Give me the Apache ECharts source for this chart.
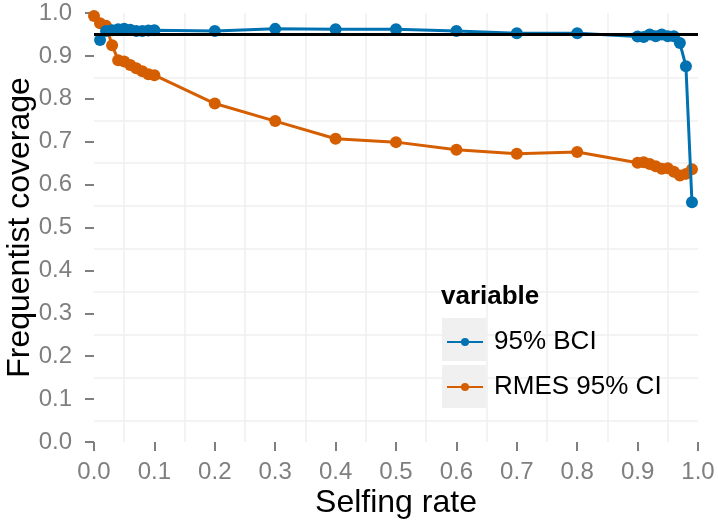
<!DOCTYPE html>
<html>
<head>
<meta charset="utf-8">
<script src="https://cdn.jsdelivr.net/npm/echarts@6/dist/echarts.min.js"></script>
<style>html,body{margin:0;padding:0;background:#fff}#c{width:718px;height:527px}</style>
</head>
<body>
<div id="c"></div>
<script>
const seriesNames = ['95% BCI', 'RMES 95% CI'];
const bciX = [0.01, 0.02, 0.03, 0.04, 0.05, 0.06, 0.07, 0.08, 0.09, 0.1, 0.2, 0.3, 0.4, 0.5, 0.6, 0.7, 0.8, 0.9, 0.91, 0.92, 0.93, 0.94, 0.95, 0.96, 0.97, 0.98, 0.99];
const bciY = [0.937, 0.958, 0.960, 0.962, 0.963, 0.961, 0.958, 0.958, 0.959, 0.960, 0.958, 0.963, 0.962, 0.962, 0.958, 0.953, 0.953, 0.945, 0.944, 0.950, 0.946, 0.950, 0.946, 0.946, 0.930, 0.876, 0.559];
const rmesX = [0, 0.01, 0.02, 0.03, 0.04, 0.05, 0.06, 0.07, 0.08, 0.09, 0.1, 0.2, 0.3, 0.4, 0.5, 0.6, 0.7, 0.8, 0.9, 0.91, 0.92, 0.93, 0.94, 0.95, 0.96, 0.97, 0.98, 0.99];
const rmesY = [0.993, 0.976, 0.970, 0.925, 0.890, 0.887, 0.879, 0.871, 0.864, 0.857, 0.855, 0.789, 0.748, 0.707, 0.699, 0.681, 0.672, 0.676, 0.651, 0.652, 0.648, 0.643, 0.637, 0.638, 0.630, 0.621, 0.625, 0.636];
const nominal = 0.95;
const xTitle = 'Selfing rate';
const yTitle = 'Frequentist coverage';
const legendTitle = 'variable';
const colors = ['#0072B2', '#D55E00'];

const FONT = 'Liberation Sans';
const chart = echarts.init(document.getElementById('c'), null, {renderer: 'canvas'});
const pair = (xs, ys) => xs.map((x, i) => [x, ys[i]]);

const axisCommon = {
  min: 0, max: 1, interval: 0.1,
  axisLine: {show: false},
  axisTick: {show: true, length: 9, lineStyle: {color: '#7f7f7f', width: 2}},
  axisLabel: {color: '#7f7f7f', fontSize: 24, fontFamily: FONT, formatter: v => v.toFixed(1)},
  splitLine: {show: false},
  minorTick: {show: false, splitNumber: 2},
  minorSplitLine: {show: true, lineStyle: {color: '#f0f0f0', width: 1.5}},
  nameLocation: 'middle',
  nameMoveOverlap: false,
  nameTextStyle: {color: '#000', fontSize: 32, fontFamily: FONT}
};

chart.setOption({
  animation: false,
  backgroundColor: '#fff',
  grid: {left: 94, right: 20, top: 13, bottom: 85, containLabel: false, outerBoundsMode: 'none'},
  xAxis: Object.assign({}, axisCommon, {
    type: 'value', name: xTitle, nameGap: 37, offset: 8,
    axisLabel: Object.assign({}, axisCommon.axisLabel, {margin: 10})
  }),
  yAxis: Object.assign({}, axisCommon, {
    type: 'value', name: yTitle, nameGap: 53, offset: 5,
    axisLabel: Object.assign({}, axisCommon.axisLabel, {margin: 17})
  }),
  title: {
    text: legendTitle, left: 441, top: 284, padding: 0,
    textStyle: {fontSize: 26, fontWeight: 'bold', color: '#000', fontFamily: FONT}
  },
  graphic: [
    {type: 'rect', shape: {x: 442, y: 318, width: 44, height: 43}, style: {fill: '#f0f0f0'}, z: -1},
    {type: 'rect', shape: {x: 442, y: 365, width: 44, height: 43}, style: {fill: '#f0f0f0'}, z: -1}
  ],
  legend: {
    data: seriesNames, orient: 'vertical', left: 446, top: 329, padding: 0,
    itemWidth: 36, itemHeight: 10, itemGap: 19,
    textStyle: {fontSize: 26, lineHeight: 26, color: '#000', fontFamily: FONT, padding: [0, 0, 0, 6]}
  },
  series: [
    {
      name: seriesNames[0], type: 'line', data: pair(bciX, bciY), color: colors[0],
      symbol: 'circle', symbolSize: 12, showSymbol: true,
      lineStyle: {width: 3, color: colors[0]}, itemStyle: {color: colors[0]}, z: 3
    },
    {
      name: seriesNames[1], type: 'line', data: pair(rmesX, rmesY), color: colors[1],
      symbol: 'circle', symbolSize: 12, showSymbol: true,
      lineStyle: {width: 3, color: colors[1]}, itemStyle: {color: colors[1]}, z: 2
    },
    {
      name: 'nominal', type: 'line', data: [], z: 5, silent: true,
      markLine: {
        silent: true, symbol: 'none', label: {show: false},
        lineStyle: {color: '#000', width: 3, type: 'solid'},
        data: [{yAxis: nominal}]
      }
    }
  ]
});
</script>
</body>
</html>
